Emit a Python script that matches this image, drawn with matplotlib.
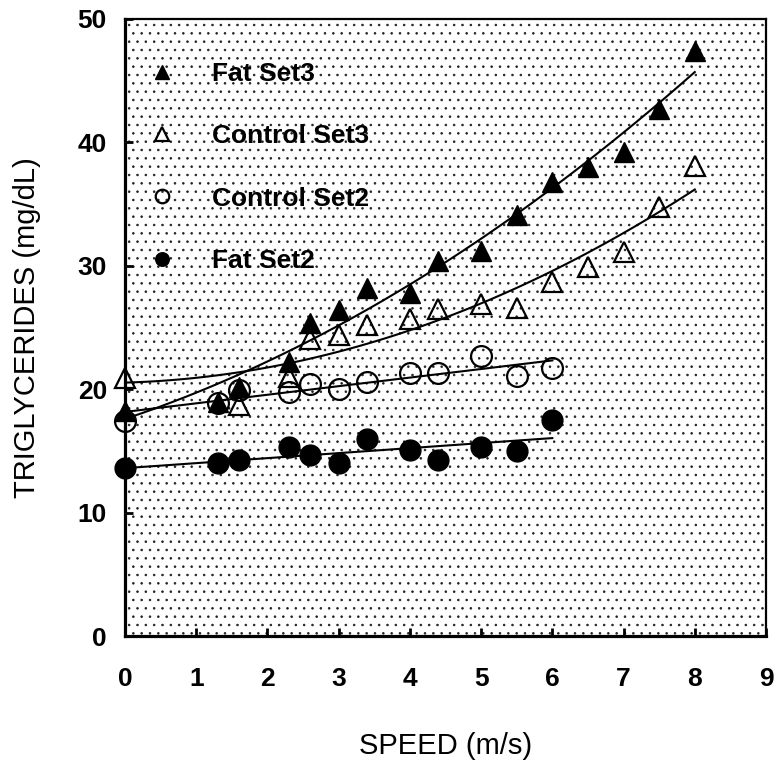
import numpy as np
import matplotlib
matplotlib.use("Agg")
import matplotlib.pyplot as plt
from matplotlib.patches import Rectangle

plt.rcParams['font.family'] = ['Liberation Sans', 'DejaVu Sans']
plt.rcParams['hatch.linewidth'] = 0.6

# speeds (m/s) and triglycerides (mg/dL)
fat3_x = [0, 1.3, 1.6, 2.3, 2.6, 3.0, 3.4, 4.0, 4.4, 5.0, 5.5, 6.0, 6.5, 7.0, 7.5, 8.0]
fat3_y = [18.2, 19.0, 20.2, 22.2, 25.4, 26.4, 28.2, 27.8, 30.4, 31.2, 34.1, 36.8, 38.0, 39.2, 42.7, 47.4]

ctl3_x = [0, 1.6, 2.3, 2.6, 3.0, 3.4, 4.0, 4.4, 5.0, 5.5, 6.0, 6.5, 7.0, 7.5, 8.0]
ctl3_y = [20.9, 18.7, 21.0, 24.1, 24.4, 25.2, 25.7, 26.5, 26.9, 26.6, 28.7, 29.9, 31.1, 34.8, 38.1]

ctl2_x = [0, 1.3, 1.6, 2.3, 2.6, 3.0, 3.4, 4.0, 4.4, 5.0, 5.5, 6.0]
ctl2_y = [17.4, 18.9, 19.9, 19.8, 20.4, 20.0, 20.6, 21.3, 21.3, 22.7, 21.1, 21.7]

fat2_x = [0, 1.3, 1.6, 2.3, 2.6, 3.0, 3.4, 4.0, 4.4, 5.0, 5.5, 6.0]
fat2_y = [13.6, 14.0, 14.3, 15.3, 14.7, 14.0, 16.0, 15.1, 14.3, 15.3, 15.0, 17.5]

x_ticks = [0, 1, 2, 3, 4, 5, 6, 7, 8, 9]
y_ticks = [0, 10, 20, 30, 40, 50]

fig = plt.figure(figsize=(7.76, 7.65), dpi=100)
ax = fig.add_axes([125 / 776, 1 - 636 / 765, 641 / 776, 617 / 765])

# stippled background
ax.add_patch(Rectangle((0, 0), 1, 1, transform=ax.transAxes, facecolor='white',
                       edgecolor='#222222', hatch='..', lw=0, zorder=0))

ms = 15
common = dict(linestyle='none', markersize=ms, clip_on=False, zorder=3)
ax.plot(fat3_x, fat3_y, marker='^', color='black', label='Fat Set3', **common)
ax.plot(ctl3_x, ctl3_y, marker='^', markerfacecolor='none', markeredgecolor='black',
        markeredgewidth=1.6, label='Control Set3', **common)
ax.plot(ctl2_x, ctl2_y, marker='o', markerfacecolor='none', markeredgecolor='black',
        markeredgewidth=1.6, label='Control Set2', **common)
ax.plot(fat2_x, fat2_y, marker='o', color='black', label='Fat Set2', **common)

# fitted curves
for xs, ys, deg in [(fat3_x, fat3_y, 2), (ctl3_x, ctl3_y, 2),
                    (ctl2_x, ctl2_y, 1), (fat2_x, fat2_y, 1)]:
    p = np.polyfit(xs, ys, deg)
    xx = np.linspace(min(xs), max(xs), 100)
    ax.plot(xx, np.polyval(p, xx), color='black', lw=1.5, zorder=2)

ax.set_xlim(0, 9)
ax.set_ylim(0, 50)
ax.set_xticks(x_ticks)
ax.set_yticks(y_ticks)

for s in ['left', 'bottom']:
    ax.spines[s].set_linewidth(2.3)
for s in ['top', 'right']:
    ax.spines[s].set_linewidth(1.6)

ax.tick_params(axis='x', direction='in', length=6, width=2, pad=22,
               labelsize=19, bottom=True, top=False)
ax.tick_params(axis='y', direction='in', length=6, width=2, pad=13,
               labelsize=19, left=True, right=False)
for lab in ax.get_xticklabels() + ax.get_yticklabels():
    lab.set_fontweight('bold')

ax.set_xlabel('SPEED (m/s)', fontsize=21, labelpad=30)
ax.set_ylabel('TRIGLYCERIDES (mg/dL)', fontsize=21, labelpad=26)

ax.legend(loc='upper left', bbox_to_anchor=(0.045, 0.93), borderaxespad=0,
          borderpad=0, frameon=False, markerscale=0.65, handlelength=0.6,
          handletextpad=1.6, labelspacing=1.45,
          prop={'size': 19, 'weight': 'bold'})

fig.savefig('out.png', dpi=100)
